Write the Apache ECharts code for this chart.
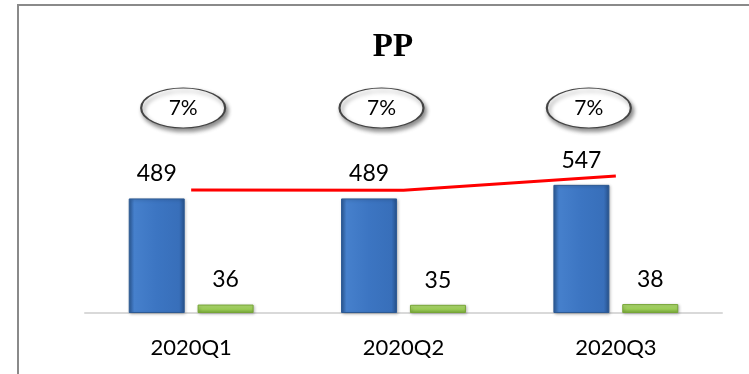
<!DOCTYPE html>
<html>
<head>
<meta charset="utf-8">
<script src="https://cdn.jsdelivr.net/npm/echarts@6/dist/echarts.min.js"></script>
<style>html,body{margin:0;padding:0;background:#fff;}#c{width:749px;height:374px;}</style>
</head>
<body>
<div id="c"></div>
<script>
const categories = ['2020Q1', '2020Q2', '2020Q3'];
const blueValues = [489, 489, 547];
const greenValues = [36, 35, 38];
const totalValues = [525, 524, 585];
const rateLabels = ['7%', '7%', '7%'];
const rateOffsetsX = [-8, -22, -27];

const chart = echarts.init(document.getElementById('c'), null, {renderer: 'canvas'});
const font = 'Lato, "Open Sans", sans-serif';

const blueGrad = new echarts.graphic.LinearGradient(0, 0, 1, 0, [
  {offset: 0, color: '#2c5b98'},
  {offset: 0.1, color: '#4680cc'},
  {offset: 0.5, color: '#3c75c2'},
  {offset: 0.9, color: '#386fba'},
  {offset: 1, color: '#27518a'}
]);
const greenGrad = new echarts.graphic.LinearGradient(0, 0, 0, 1, [
  {offset: 0, color: '#b7e07a'},
  {offset: 0.5, color: '#9dcf58'},
  {offset: 1, color: '#78a83a'}
]);

chart.setOption({
  animation: false,
  backgroundColor: '#fff',
  title: {
    text: 'PP',
    left: 388,
    top: 26,
    textAlign: 'center',
    textStyle: {fontFamily: '"Liberation Serif", "Times New Roman", serif', fontWeight: 'bold', fontSize: 33, color: '#000'}
  },
  graphic: [{
    type: 'rect',
    shape: {x: 18, y: 5, width: 800, height: 420},
    style: {fill: 'none', stroke: '#8a8a8a', lineWidth: 2},
    z: 0
  }],
  grid: {left: 85, right: 27, top: 108, bottom: 61, containLabel: false},
  xAxis: {
    type: 'category',
    data: categories,
    axisLine: {lineStyle: {color: '#d9d9d9', width: 2}},
    axisTick: {show: false},
    axisLabel: {fontFamily: font, fontSize: 22, color: '#000', margin: 24}
  },
  yAxis: [
    {type: 'value', min: 0, max: 875, show: false, splitLine: {show: false}},
    {type: 'value', min: 0, max: 1, show: false, splitLine: {show: false}}
  ],
  series: [
    {
      type: 'bar',
      data: blueValues,
      barWidth: 56,
      barGap: '23%',
      itemStyle: {color: blueGrad, borderColor: '#2d5a93', borderWidth: 1,
        shadowColor: 'rgba(0,0,0,0.25)', shadowBlur: 3, shadowOffsetX: 1, shadowOffsetY: 1},
      label: {show: true, position: 'top', distance: 13, fontFamily: font, fontSize: 23, color: '#000'}
    },
    {
      type: 'bar',
      data: greenValues,
      barWidth: 56,
      itemStyle: {color: greenGrad, borderColor: '#76a536', borderWidth: 1,
        shadowColor: 'rgba(0,0,0,0.25)', shadowBlur: 3, shadowOffsetX: 1, shadowOffsetY: 1},
      label: {show: true, position: 'top', distance: 13, fontFamily: font, fontSize: 23, color: '#000'}
    },
    {
      type: 'line',
      data: totalValues,
      showSymbol: false,
      symbol: 'none',
      lineStyle: {color: '#ff0000', width: 3},
      z: 5
    },
    {
      type: 'scatter',
      yAxisIndex: 1,
      clip: false,
      data: rateLabels.map((t, i) => ({
        value: 1,
        label: {formatter: t},
        symbolOffset: [rateOffsetsX[i], 0]
      })),
      symbol: 'circle',
      symbolSize: [84, 40],
      itemStyle: {color: '#ffffff', opacity: 1, borderColor: '#444', borderWidth: 1.5,
        shadowColor: 'rgba(0,0,0,0.45)', shadowBlur: 4, shadowOffsetX: 2, shadowOffsetY: 3},
      label: {show: true, position: 'inside', fontFamily: font, fontSize: 21, color: '#000'},
      z: 6
    }
  ]
});
</script>
</body>
</html>
